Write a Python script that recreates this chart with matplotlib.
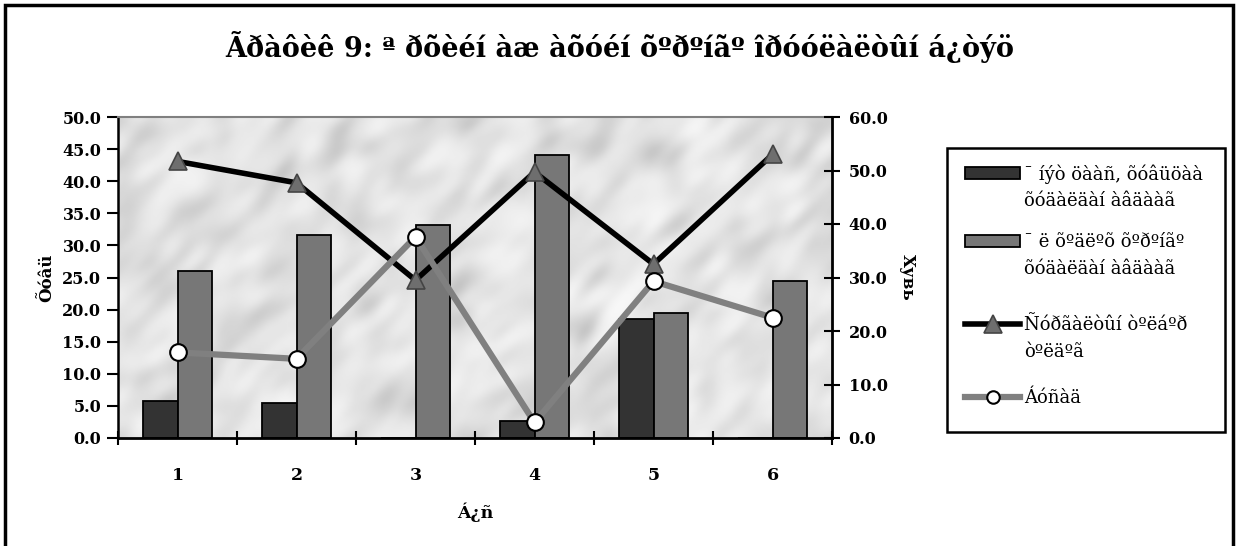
import numpy as np
import matplotlib.pyplot as plt
from matplotlib.patches import Rectangle
from matplotlib.lines import Line2D

plt.rcParams['font.family'] = ['DejaVu Serif']

# data
regions = ['1', '2', '3', '4', '5', '6']
securities = [5.8, 5.5, 0.0, 2.7, 18.6, 0.0]
real_estate = [26.0, 31.6, 33.2, 44.1, 19.5, 24.5]
tuition = [51.7, 47.7, 29.5, 49.7, 32.5, 53.0]
other = [16.0, 14.8, 37.6, 2.9, 29.3, 22.5]

labels = ['¯ íýò öààñ, õóâüöàà\nõóäàëäàí àâäààã',
          '¯ ë õºäëºõ õºðºíãº\nõóäàëäàí àâäààã',
          'Ñóðãàëòûí òºëáºð\nòºëäºã',
          'Áóñàä']
title = 'Ãðàôèê 9: ª ðõèéí àæ àõóéí õºðºíãº îðóóëàëòûí á¿òýö'

fig = plt.figure(figsize=(12.38, 5.46), dpi=100)
W, H = 1238, 546
ax = fig.add_axes([118 / W, (H - 438) / H, (832 - 118) / W, (438 - 117) / H])

# marble-ish background (decoration only)
rng = np.random.default_rng(11)
noise = rng.standard_normal((160, 360))
f = np.fft.fft2(noise)
ky = np.fft.fftfreq(160)[:, None]
kx = np.fft.fftfreq(360)[None, :]
u = (kx + ky) / np.sqrt(2)
v = (kx - ky) / np.sqrt(2)
filt = np.exp(-(u / 0.07) ** 2 - (v / 0.035) ** 2)
tex = np.real(np.fft.ifft2(f * filt))
tex = (tex - tex.min()) / (tex.max() - tex.min())
tex = 0.97 - 0.2 * tex ** 1.6
ax.imshow(tex, cmap='gray', vmin=0, vmax=1, extent=[-0.5, 5.5, 0, 50],
          aspect='auto', zorder=0, interpolation='bicubic')

x = np.arange(len(regions))
w = 0.29
ax.bar(x - w / 2, securities, w, color='#333333', edgecolor='black', linewidth=1.3, zorder=2)
ax.bar(x + w / 2, real_estate, w, color='#777777', edgecolor='black', linewidth=1.3, zorder=2)
ax.set_xlim(-0.5, 5.5)
ax.set_ylim(0, 50)
ax.set_yticks(np.arange(0, 51, 5))
ax.set_yticklabels([f'{v:.1f}' for v in np.arange(0, 51, 5)])
ax.set_xticks(x)
ax.set_xticklabels(regions)
ax.set_xticks(np.arange(-0.5, 6, 1), minor=True)
ax.tick_params(axis='x', which='major', length=0, pad=21)
ax.tick_params(axis='x', which='minor', length=10, width=1.5, direction='inout')
ax.tick_params(axis='y', length=8, width=1.5, direction='out', pad=4)
for lab in ax.get_xticklabels() + ax.get_yticklabels():
    lab.set_fontweight('bold')
    lab.set_fontsize(11.5)
for lab in ax.get_xticklabels():
    lab.set_fontsize(12.5)
ax.set_ylabel('Õóâü', fontsize=12, fontweight='bold', labelpad=5)
ax.set_xlabel('Á¿ñ', fontsize=12.5, fontweight='bold', labelpad=13)
ax.spines['top'].set_color('#808080')
ax.spines['top'].set_linewidth(1.5)
ax.spines['left'].set_linewidth(1.8)
ax.spines['bottom'].set_linewidth(2)
ax.spines['right'].set_visible(False)

tri_style = dict(color='black', linewidth=4, marker='^', markersize=13,
                 markerfacecolor='#6e6e6e', markeredgecolor='#444444', markeredgewidth=1.2)
dot_style = dict(color='#808080', linewidth=4.5, marker='o', markersize=12,
                 markerfacecolor='white', markeredgecolor='black', markeredgewidth=1.5)

ax2 = ax.twinx()
ax2.plot(x, tuition, zorder=3, **tri_style)
ax2.plot(x, other, zorder=4, **dot_style)
ax2.set_ylim(0, 60)
ax2.set_yticks(np.arange(0, 61, 10))
ax2.set_yticklabels([f'{v:.1f}' for v in np.arange(0, 61, 10)])
ax2.tick_params(axis='y', length=12, width=1.5, direction='inout', pad=6)
for lab in ax2.get_yticklabels():
    lab.set_fontweight('bold')
    lab.set_fontsize(11.5)
ax2.set_ylabel('Хувь', fontsize=12, fontweight='bold', rotation=270, labelpad=20)
for s in ['top', 'left', 'bottom']:
    ax2.spines[s].set_visible(False)
ax2.spines['right'].set_linewidth(2)

fig.text(620 / W, 1 - 47 / H, title, ha='center', va='center', fontsize=19.5, fontweight='bold')

# legend drawn by hand so each key sits on the first line of its label
def fx(px):
    return px / W


def fy(py):
    return 1 - py / H


fig.patches.append(Rectangle((fx(947), fy(432)), fx(1225) - fx(947), fy(148) - fy(432),
                             transform=fig.transFigure, fill=False,
                             edgecolor='black', linewidth=1.8))
key_y = [173, 241, 324, 397]
bar_colors = ['#333333', '#777777']
for i, (lab, ky_) in enumerate(zip(labels, key_y)):
    if i < 2:
        fig.patches.append(Rectangle((fx(965), fy(ky_ + 6)), fx(1020) - fx(965), fy(ky_ - 6) - fy(ky_ + 6),
                                     transform=fig.transFigure, facecolor=bar_colors[i],
                                     edgecolor='black', linewidth=1.3))
    else:
        style = dict(tri_style if i == 2 else dot_style)
        if i == 3:
            style['markersize'] = 9
        fig.add_artist(Line2D([fx(965), fx(1020)], [fy(ky_), fy(ky_)],
                              transform=fig.transFigure, markevery=[], **style))
        fig.add_artist(Line2D([fx(992.5)], [fy(ky_)], transform=fig.transFigure,
                              **dict(style, linestyle='none')))
    for j, line in enumerate(lab.split('\n')):
        fig.text(fx(1024), fy(ky_ + 1 + 27 * j), line, ha='left', va='center', fontsize=13)

fig.patches.append(Rectangle((5 / W, -0.05), (1233 - 5) / W, 1 - 5 / H + 0.05,
                             transform=fig.transFigure, fill=False,
                             edgecolor='black', linewidth=2.5))

fig.savefig('out.png', dpi=100)
